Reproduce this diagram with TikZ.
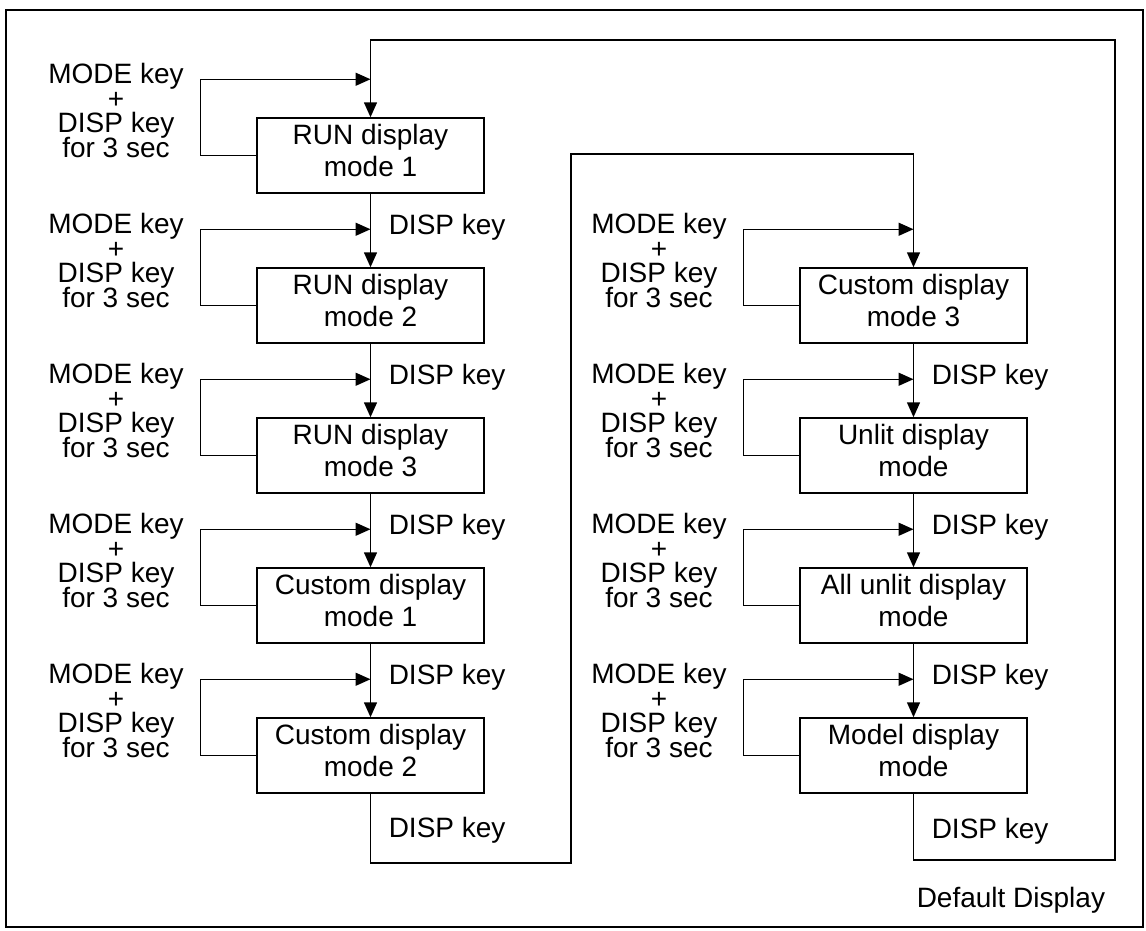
\documentclass[tikz,border=0pt]{standalone}
\usepackage{fontspec}
\setmainfont{Liberation Sans}
\usepackage{tikz}
\usetikzlibrary{arrows.meta}

\begin{document}
\begin{tikzpicture}[x=1pt,y=-1pt,line width=1.5pt,
  modebox/.style={draw, minimum width=227pt, minimum height=75pt, inner sep=0pt, align=center,
    font={\fontsize{28}{32}\selectfont}, execute at end node={\strut}},
  combo/.style={align=center, inner sep=0pt, font={\fontsize{28}{24.5}\selectfont\lineskiplimit=-100pt}},
  dispkey/.style={anchor=base west, inner sep=0pt, font={\fontsize{28}{32}\selectfont}},
  flow/.style={-{Triangle[length=15pt,width=13pt]}}]
  \useasboundingbox (0,0) rectangle (1146,930);
  % Outer frame
  \draw (6,10) rectangle (1143,927);
  % Left column of display modes
  \node[modebox] (run1) at (370.5,155.5) {RUN display\\mode 1};
  \node[modebox] (run2) at (370.5,305.5) {RUN display\\mode 2};
  \node[modebox] (run3) at (370.5,455.5) {RUN display\\mode 3};
  \node[modebox] (cust1) at (370.5,605.5) {Custom display\\mode 1};
  \node[modebox] (cust2) at (370.5,755.5) {Custom display\\mode 2};
  % Right column of display modes
  \node[modebox] (cust3) at (913.5,305.5) {Custom display\\mode 3};
  \node[modebox] (unlit) at (913.5,455.5) {Unlit display\\mode};
  \node[modebox] (allunlit) at (913.5,605.5) {All unlit display\\mode};
  \node[modebox] (model) at (913.5,755.5) {Model display\\mode};
  % MODE + DISP loops back to the same mode
  \foreach \b in {run1,run2,run3,cust1,cust2,cust3,unlit,allunlit,model}{
    \coordinate (m-\b) at ([yshift=38pt]\b.north);
    \node[combo] (k-\b) at ([xshift=-254.5pt,yshift=45pt]\b.center) {MODE key\\+\\DISP key\\for 3 sec};
    \draw[flow] (\b.west) -- ++(-56,0) |- (m-\b);
  }
  % DISP key steps
  \draw[flow] (run1) -- (run2);
  \draw[flow] (run2) -- (run3);
  \draw[flow] (run3) -- (cust1);
  \draw[flow] (cust1) -- (cust2);
  \draw[flow] (cust3) -- (unlit);
  \draw[flow] (unlit) -- (allunlit);
  \draw[flow] (allunlit) -- (model);
  \node[dispkey] (d-run2) at ([xshift=17.5pt,yshift=-5pt]m-run2) {DISP key};
  \node[dispkey] (d-run3) at ([xshift=17.5pt,yshift=-5pt]m-run3) {DISP key};
  \node[dispkey] (d-cust1) at ([xshift=17.5pt,yshift=-5pt]m-cust1) {DISP key};
  \node[dispkey] (d-cust2) at ([xshift=17.5pt,yshift=-5pt]m-cust2) {DISP key};
  \node[dispkey] (d-unlit) at ([xshift=17.5pt,yshift=-5pt]m-unlit) {DISP key};
  \node[dispkey] (d-allunlit) at ([xshift=17.5pt,yshift=-5pt]m-allunlit) {DISP key};
  \node[dispkey] (d-model) at ([xshift=17.5pt,yshift=-5pt]m-model) {DISP key};
  % Wrap from one column to the next
  \coordinate (midtop) at (571,154);
  \coordinate (righttop) at (1115,40);
  \draw[flow] (cust2.south) -- ++(0,69) -| (midtop) -| (cust3.north);
  \draw[flow] (model.south) -- ++(0,66) -| (righttop) -| (run1.north);
  \node[dispkey] (d-wrapL) at ([xshift=17.5pt,yshift=-44pt]cust2.south) {DISP key};
  \node[dispkey] (d-wrapR) at ([xshift=17.5pt,yshift=-45pt]model.south) {DISP key};
  \node[dispkey] (deflt) at (916,907) {Default Display};
\end{tikzpicture}
\end{document}
